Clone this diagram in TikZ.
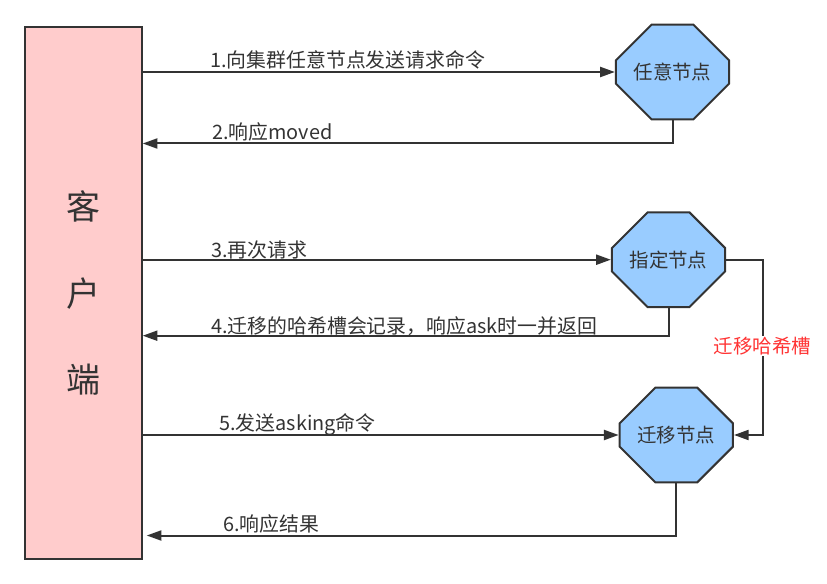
\documentclass[tikz,border=0pt]{standalone}
\usepackage{fontspec}
\setmainfont{Noto Sans CJK SC}
\usetikzlibrary{arrows.meta,shapes.misc}
\definecolor{clientpink}{HTML}{FFCCCC}
\definecolor{nodeblue}{HTML}{99CCFF}
\definecolor{inkgray}{HTML}{333333}
\definecolor{slotred}{HTML}{FF3333}
\tikzset{
  flow/.style={draw=inkgray,line width=1.5pt,-{Triangle[length=11pt,width=7.5pt]}},
  octa/.style={chamfered rectangle,chamfered rectangle xsep=20pt,chamfered rectangle ysep=20pt,
    draw=inkgray,line width=1.5pt,fill=nodeblue,text=inkgray,inner sep=0pt,
    minimum width=85pt,minimum height=71pt,font=\fontsize{14.6}{16}\selectfont},
  msg/.style={anchor=west,text=inkgray,inner sep=0pt,font=\fontsize{14.9}{16}\selectfont}
}
\begin{document}
\begin{tikzpicture}[x=0.75pt,y=-0.75pt]
\useasboundingbox (0,0) rectangle (827,584);
\node[draw=inkgray,line width=1.5pt,fill=clientpink,minimum width=87.75pt,minimum height=399.5pt,
  text=inkgray,align=center,font=\fontsize{25.5}{65}\selectfont] (client) at (83.2,293) {客\\户\\端};
\node[octa] (anynode) at (672.5,72) {任意节点};
\node[octa] (target) at (668.5,259.7) {指定节点};
\node[octa] (migrate) at (676.3,435) {迁移节点};
\coordinate (y2) at (0,143.5);
\coordinate (y4) at (0,335.7);
\coordinate (y6) at (0,535.5);
% requests
\draw[flow] (anynode.west -| client.east) -- (anynode.west);
\draw[flow] (target.west -| client.east) -- (target.west);
\draw[flow] (migrate.west -| client.east) -- (migrate.west);
% replies
\draw[flow] (anynode.south) |- (client.east |- y2);
\draw[flow] (target.south) |- (client.east |- y4);
\draw[flow,shorten >=3pt] (migrate.south) |- (client.east |- y6);
% slot move
\draw[flow] (target.east) -- ++(37.3,0) coordinate (bend) |- (migrate.east);
\node[fill=white,text=slotred,inner sep=1pt,font=\fontsize{14.6}{16}\selectfont] (slot) at (762.3,346) {迁移哈希槽};
\node[msg] (m1) at (210,60) {1.向集群任意节点发送请求命令};
\node[msg] (m2) at (212,132) {2.响应moved};
\node[msg] (m3) at (211,249.5) {3.再次请求};
\node[msg] (m4) at (211,326) {4.迁移的哈希槽会记录，响应ask时一并返回};
\node[msg] (m5) at (219,425) {5.发送asking命令};
\node[msg] (m6) at (223,523.5) {6.响应结果};
\end{tikzpicture}
\end{document}
